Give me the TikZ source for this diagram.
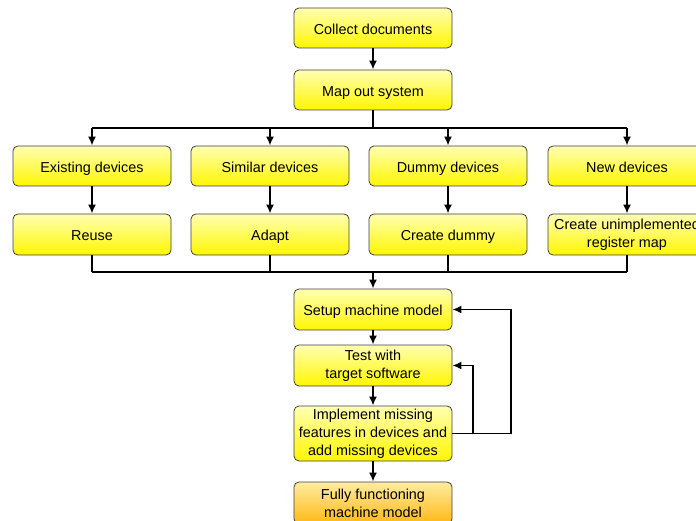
\documentclass[tikz,border=0pt]{standalone}
\usepackage{fontspec}
\setmainfont{Liberation Sans}
\usetikzlibrary{arrows.meta}
\definecolor{boxtop}{RGB}{255,255,178}
\definecolor{boxbot}{RGB}{255,246,0}
\definecolor{endtop}{RGB}{255,236,160}
\definecolor{endbot}{RGB}{255,184,20}
\definecolor{edge}{RGB}{64,64,64}
\tikzset{
  stepbox/.style={draw=edge, line width=0.8pt, rounded corners=5pt,
    top color=boxtop, bottom color=boxbot,
    minimum width=158pt, minimum height=40pt, inner sep=2pt,
    align=center, font=\fontsize{14.4}{18}\selectfont},
  oneline/.style={stepbox, text height=13pt, text depth=0.6pt},
  endbox/.style={stepbox, top color=endtop, bottom color=endbot},
  flow/.style={line width=1.8pt, -{Latex[length=9pt,width=8pt]}},
  link/.style={line width=1.8pt}
}
\begin{document}
\begin{tikzpicture}[x=1pt,y=-1pt]
\useasboundingbox (0,0) rectangle (696,521);
% main column
\node[oneline] (collect) at (373,28) {Collect documents};
\node[oneline] (map) at (373,90) {Map out system};
% device categories
\node[oneline] (exist) at (92,166) {Existing devices};
\node[oneline] (similar) at (270,166) {Similar devices};
\node[oneline] (dummy) at (448,166) {Dummy devices};
\node[oneline] (new) at (627,166) {New devices};
\node[oneline, minimum height=41pt] (reuse) at (92,234.5) {Reuse};
\node[oneline, minimum height=41pt] (adapt) at (270,234.5) {Adapt};
\node[oneline, minimum height=41pt] (cdummy) at (448,234.5) {Create dummy};
\node[stepbox, minimum height=41pt] (unimpl) at (627,234.5) {Create unimplemented\\register map};
% modelling loop
\node[oneline, minimum height=41pt] (setup) at (373,309.5) {Setup machine model};
\node[stepbox, minimum height=41pt] (test) at (373,365.5) {Test with\\target software};
\node[stepbox, minimum height=55pt] (impl) at (373,433.5) {Implement missing\\features in devices and\\add missing devices};
\node[endbox, minimum height=42pt] (final) at (373,503) {Fully functioning\\machine model};

% fan-out
\coordinate (split) at (373,128);
\draw[flow] (collect) -- (map);
\draw[link] (map) -- (split);
\draw[link] (exist.north |- split) -- (new.north |- split);
\foreach \n in {exist,similar,dummy,new}
  \draw[flow] (\n.north |- split) -- (\n.north);
\draw[flow] (exist) -- (reuse);
\draw[flow] (similar) -- (adapt);
\draw[flow] (dummy) -- (cdummy);
\draw[flow] (new) -- (unimpl);
% fan-in
\coordinate (join) at (373,272);
\foreach \n in {reuse,adapt,cdummy,unimpl}
  \draw[link] (\n.south) -- (\n.south |- join);
\draw[link] (reuse.south |- join) -- (unimpl.south |- join);
\draw[flow] (join) -- (setup);
\draw[flow] (setup) -- (test);
\draw[flow] (test) -- (impl);
\draw[flow] (impl) -- (final);
% feedback
\coordinate (fbout) at (511,433.5);
\coordinate (fbin) at (473,433.5);
\draw[link] (impl.east) -- (fbout);
\draw[flow] (fbout) |- (setup.east);
\draw[flow] (fbin) |- (test.east);
\end{tikzpicture}
\end{document}
